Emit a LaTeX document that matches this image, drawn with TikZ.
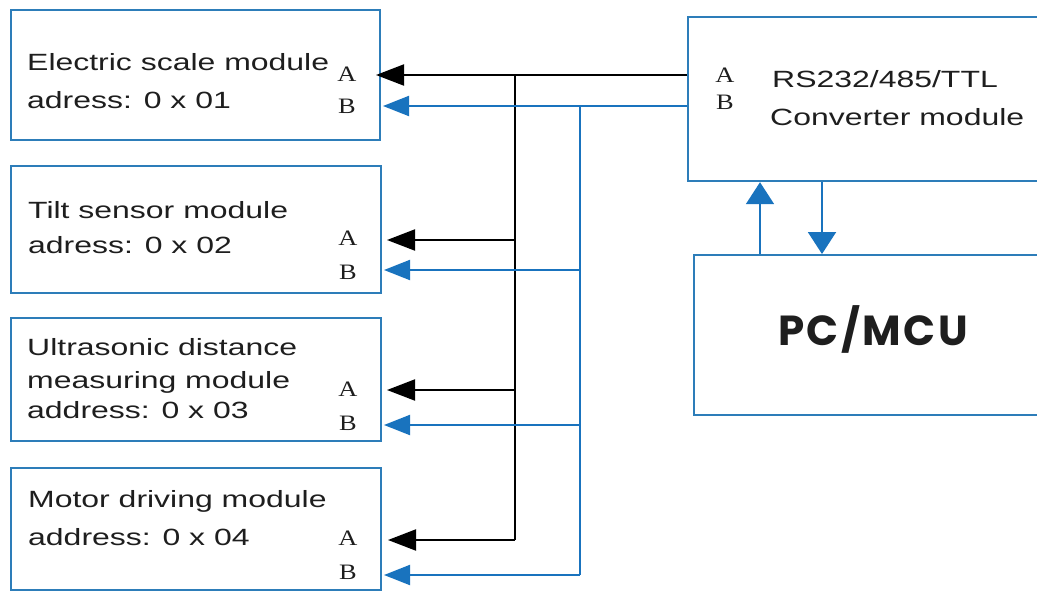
\documentclass[tikz,border=0pt]{standalone}
\usepackage{fontspec}
\setmainfont{Liberation Sans}
\newfontfamily\lblfont[FakeStretch=1.36]{Liberation Sans}
\newfontfamily\serifAB[FakeStretch=1.2]{Liberation Serif}
\newfontfamily\pcfont[LetterSpace=6]{Poppins}
\usetikzlibrary{arrows.meta}
\definecolor{boxblue}{RGB}{45,125,185}
\definecolor{arrblue}{RGB}{25,115,190}
\definecolor{txt}{RGB}{30,30,30}
\begin{document}
\begin{tikzpicture}[x=1pt,y=-1pt,
  modbox/.style={draw=boxblue,line width=2.2pt,rectangle,inner sep=0pt,anchor=north west},
  lbl/.style={font=\lblfont\fontsize{23.5}{28}\selectfont,anchor=base west,inner sep=0pt,text=txt},
  ablbl/.style={font=\serifAB\fontsize{22}{24}\selectfont,inner sep=0pt,text=txt},
  blk/.style={draw=black,line width=2pt},
  blkarr/.style={blk,-{Triangle[length=28pt,width=21pt]}},
  blu/.style={draw=arrblue,line width=2pt},
  bluarr/.style={blu,-{Triangle[length=26pt,width=20pt]}},
  vbluarr/.style={blu,-{Triangle[length=22pt,width=28pt]}}]
\useasboundingbox (0,0) rectangle (1037,590);
% boxes
\node[modbox,minimum width=369pt,minimum height=130pt] (m1) at (10,9) {};
\node[modbox,minimum width=370pt,minimum height=127pt] (m2) at (10,165) {};
\node[modbox,minimum width=370pt,minimum height=123pt] (m3) at (10,317) {};
\node[modbox,minimum width=370pt,minimum height=122pt] (m4) at (10,467) {};
\node[modbox,minimum width=400pt,minimum height=164pt] (conv) at (687,16) {};
\node[modbox,minimum width=400pt,minimum height=160pt] (pc) at (693,254) {};
% texts
\node[lbl] (t11) at (27,70) {Electric scale module};
\node[lbl] (t12) at (27,108) {adress: 0 x 01};
\node[lbl] (t21) at (28,218) {Tilt sensor module};
\node[lbl] (t22) at (28,253) {adress: 0 x 02};
\node[lbl] (t31) at (27,355) {Ultrasonic distance};
\node[lbl] (t32) at (27,388) {measuring module};
\node[lbl] (t33) at (27,418) {address: 0 x 03};
\node[lbl] (t41) at (28,507) {Motor driving module};
\node[lbl] (t42) at (28,545) {address: 0 x 04};
\node[ablbl] (a1) at (347,74) {A};
\node[ablbl] (b1) at (347,106) {B};
\node[ablbl] (a2) at (348,238) {A};
\node[ablbl] (b2) at (348,272) {B};
\node[ablbl] (a3) at (348,389) {A};
\node[ablbl] (b3) at (348,423) {B};
\node[ablbl] (a4) at (348,538) {A};
\node[ablbl] (b4) at (348,572) {B};
\node[ablbl] (ca) at (725,75) {A};
\node[ablbl] (cb) at (725,102) {B};
\node[lbl] (c1) at (772,87) {RS232/485/TTL};
\node[lbl] (c2) at (770,125) {Converter module};
\node[font=\pcfont\bfseries\fontsize{42}{46}\selectfont,inner sep=0pt,text=txt] (pct) at (873,329) {PC/MCU};
% coordinates
\coordinate (jA1) at (515,75);
\coordinate (jA2) at (515,240);
\coordinate (jA3) at (515,390);
\coordinate (jA4) at (515,540);
\coordinate (jB1) at (580,106);
\coordinate (jB2) at (580,270);
\coordinate (jB3) at (580,425);
\coordinate (jB4) at (580,575);
\coordinate (tA1) at (376,75);
\coordinate (tA2) at (387,240);
\coordinate (tA3) at (387,390);
\coordinate (tA4) at (388,540);
\coordinate (tB1) at (383,106);
\coordinate (tB2) at (384,270);
\coordinate (tB3) at (384,425);
\coordinate (tB4) at (384,575);
% connectors
\draw[blkarr] (conv.west |- jA1) -- (tA1);
\draw[blk] (jA1) -- (jA4);
\draw[blkarr] (jA2) -- (tA2);
\draw[blkarr] (jA3) -- (tA3);
\draw[blkarr] (jA4) -- (tA4);
\draw[bluarr] (conv.west |- jB1) -- (tB1);
\draw[blu] (jB1) -- (jB4);
\draw[bluarr] (jB2) -- (tB2);
\draw[bluarr] (jB3) -- (tB3);
\draw[bluarr] (jB4) -- (tB4);
\draw[vbluarr] (pc.north -| 760,0) -- (conv.south -| 760,0);
\draw[vbluarr] (conv.south -| 822,0) -- (pc.north -| 822,0);
\end{tikzpicture}
\end{document}
